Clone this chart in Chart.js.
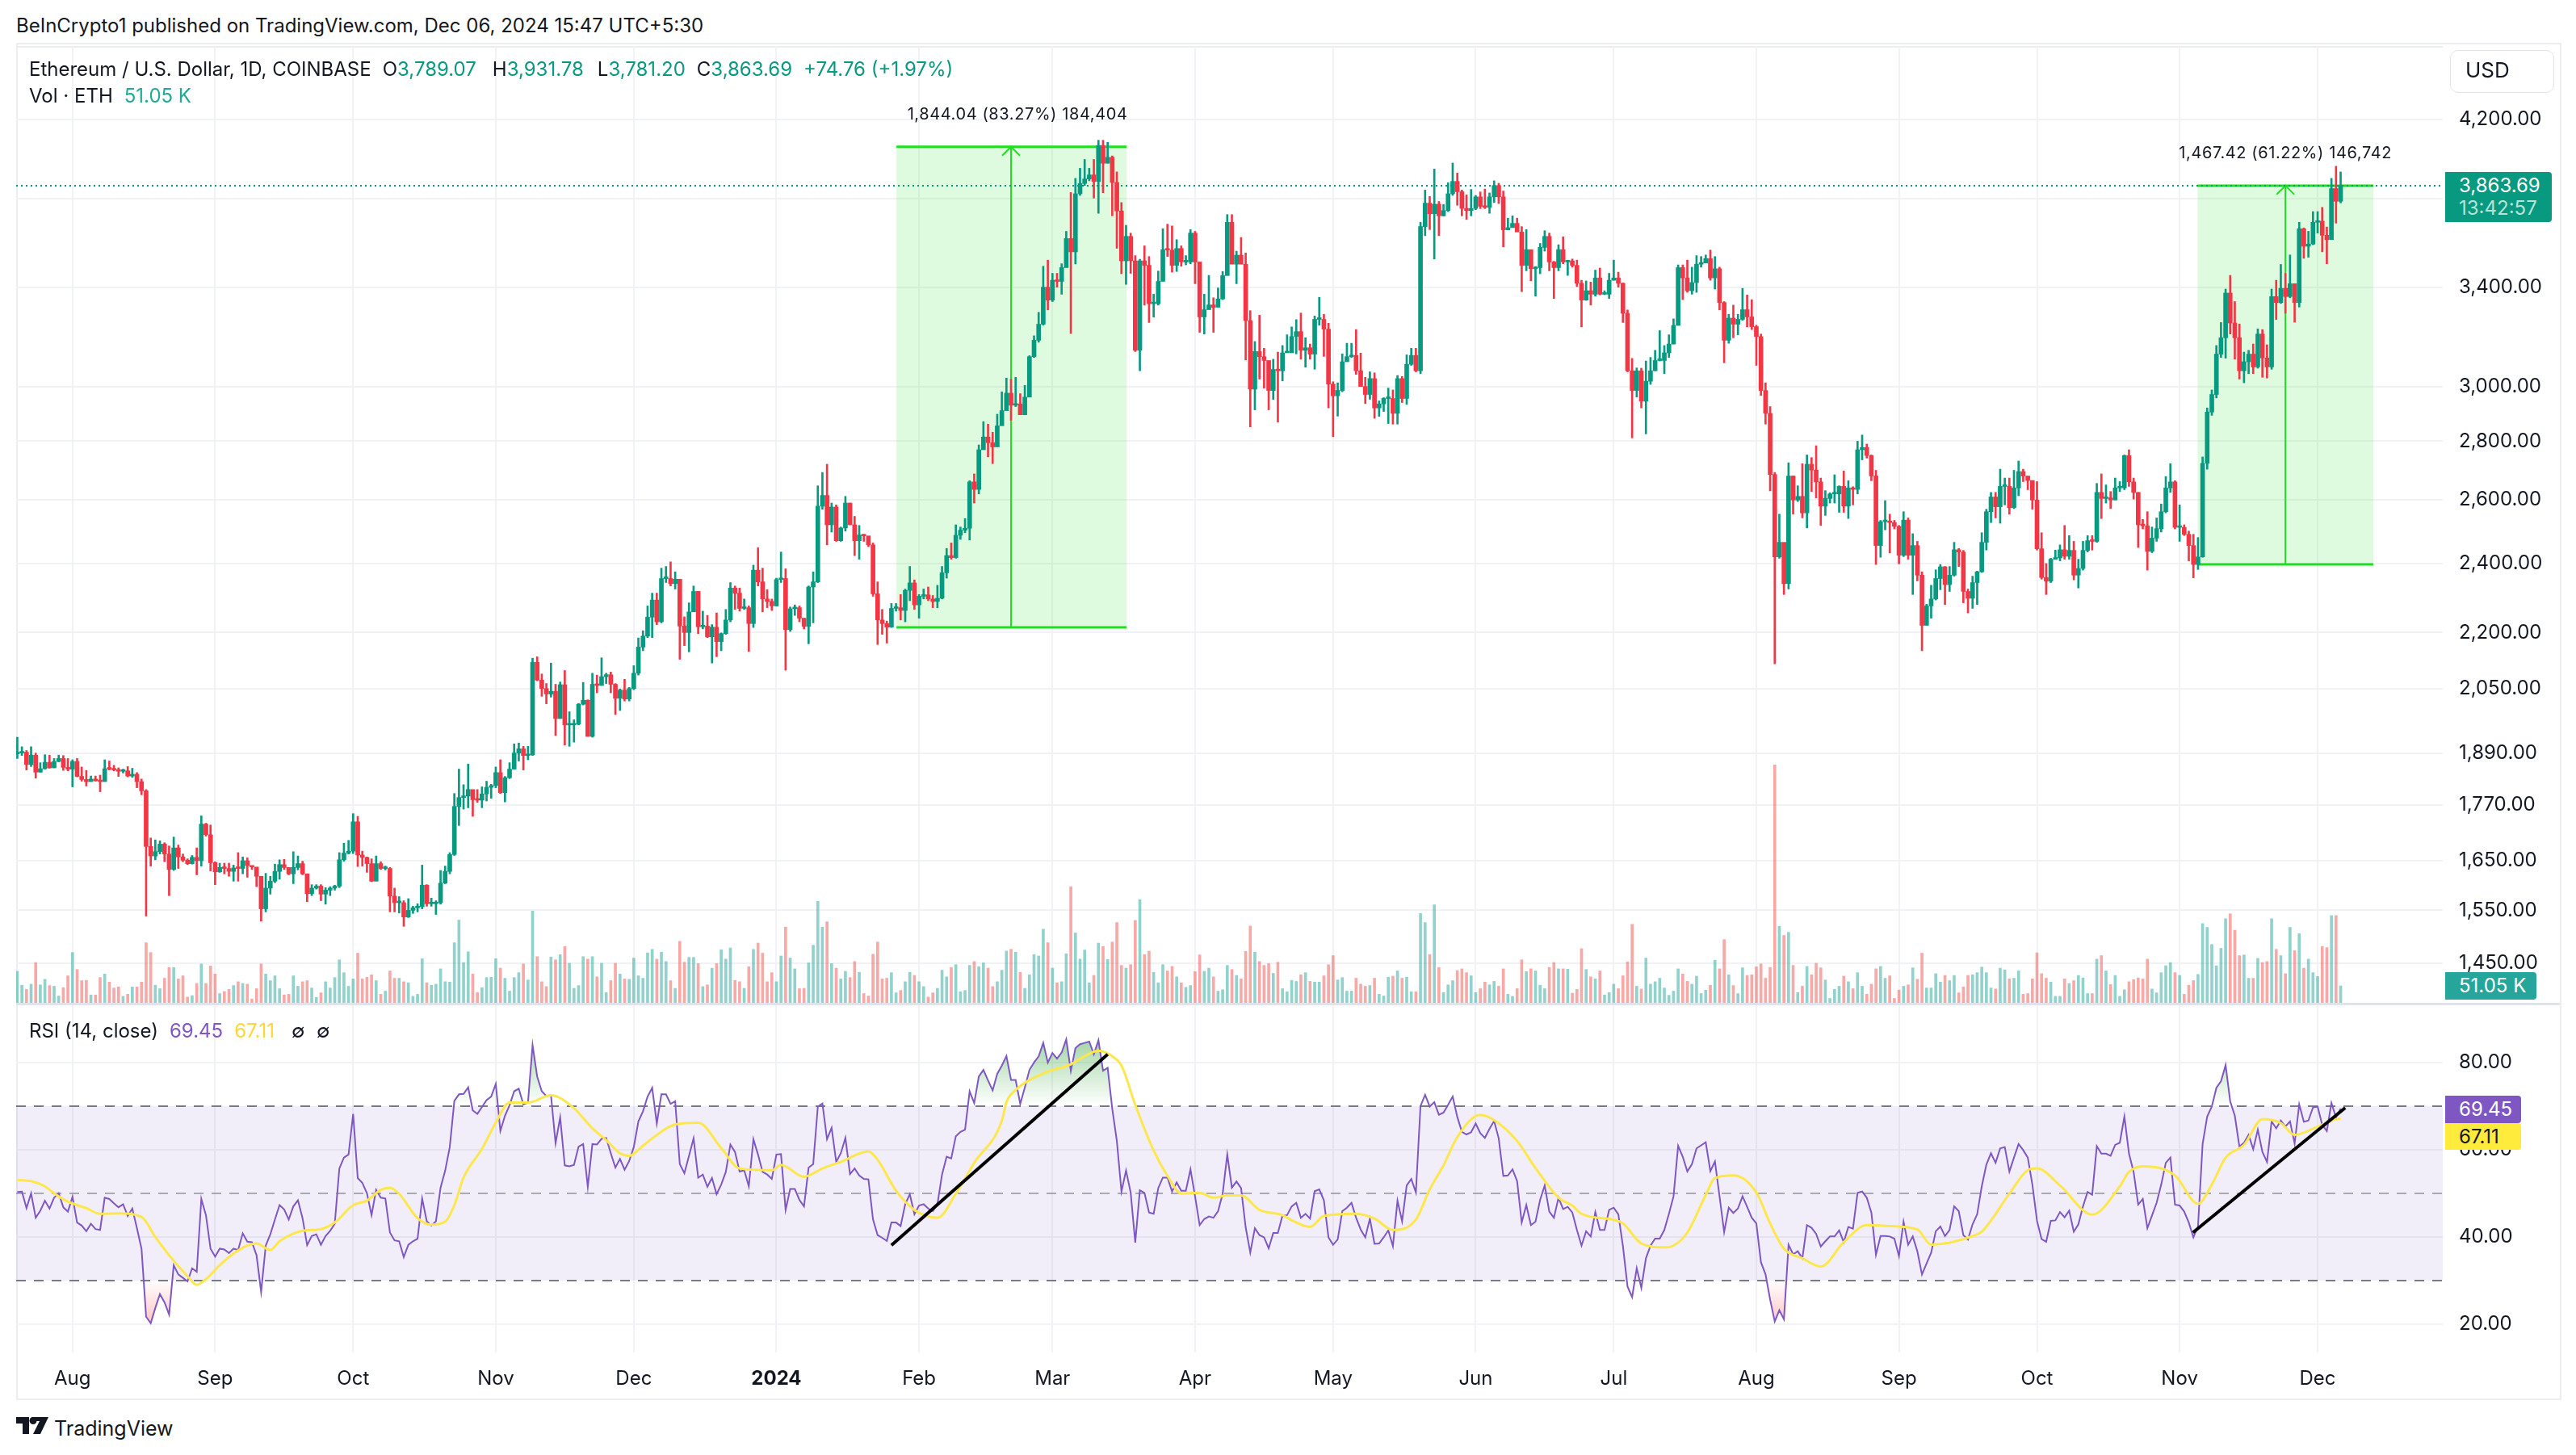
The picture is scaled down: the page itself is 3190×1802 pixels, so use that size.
<!DOCTYPE html>
<html>
<head>
<meta charset="utf-8">
<title>ETH/USD 1D</title>
<script src="https://cdn.jsdelivr.net/npm/chart.js@4"></script>
<style>
  html, body { margin: 0; padding: 0; background: #fff; }
  body { width: 3190px; height: 1802px; position: relative; overflow: hidden; font-family: Inter, sans-serif; color: #131722; }
  canvas { position: absolute; left: 20px; }
  .txt { position: absolute; white-space: pre; font-size: 24px; line-height: 30px; }
  .line { position: absolute; background: #ebedf1; }
  .tag { position: absolute; left: 3028px; text-align: left; padding-left: 17px; box-sizing: border-box; font-size: 24px; border-radius: 0 4px 4px 0; }
  .teal { color: #089981; }
  .gap { margin-left: 14px; }
</style>
</head>
<body>
<div class="txt" style="left:20px;top:17px">BeInCrypto1 published on TradingView.com, Dec 06, 2024 15:47 UTC+5:30</div>

<div class="line" style="left:20px;top:53px;width:3152px;height:2px"></div>
<div class="line" style="left:20px;top:57px;width:3005px;height:2px"></div>
<div class="line" style="left:20px;top:53px;width:2px;height:1681px"></div>
<div class="line" style="left:3170px;top:53px;width:2px;height:1681px"></div>
<div class="line" style="left:20px;top:1732px;width:3152px;height:2px"></div>

<canvas id="priceChart" width="3150" height="1186" style="top:57px"></canvas>
<canvas id="rsiChart" width="3150" height="489" style="top:1243px"></canvas>
<div class="line" style="left:20px;top:1242px;width:3150px;height:3px;background:#e0e3eb"></div>

<div class="txt" style="left:36px;top:71px">Ethereum / U.S. Dollar, 1D, COINBASE<span class="gap">O</span><span class="teal">3,789.07</span><span class="gap" style="margin-left:20px">H</span><span class="teal">3,931.78</span><span class="gap" style="margin-left:17px">L</span><span class="teal">3,781.20</span><span class="gap">C</span><span class="teal">3,863.69</span><span class="gap teal">+74.76 (+1.97%)</span></div>
<div class="txt" style="left:36px;top:104px">Vol · ETH<span class="gap" style="color:#22ab94">51.05 K</span></div>
<div class="txt" style="left:36px;top:1262px">RSI (14, close)<span class="gap" style="color:#7e57c2">69.45</span><span class="gap" style="color:#fdd835">67.11</span></div>
<div class="txt" style="left:361px;top:1262px">∅</div>
<div class="txt" style="left:392px;top:1262px">∅</div>

<div style="position:absolute;left:3034px;top:62px;width:127px;height:51px;border:1px solid #e0e3eb;border-radius:10px"></div>
<div class="txt" style="left:3053px;top:72px;font-size:26px">USD</div>

<div class="tag" style="top:213px;width:132px;height:62px;background:#089981;color:#fff;line-height:28px;padding-top:3px">3,863.69<br><span style="color:#b5e3d9">13:42:57</span></div>
<div class="tag" style="top:1204px;width:113px;height:34px;background:#26a69a;color:#fff;line-height:34px">51.05 K</div>
<div class="tag" style="top:1357px;width:94px;height:34px;background:#7e57c2;color:#fff;line-height:34px">69.45</div>
<div class="tag" style="top:1391px;width:94px;height:33px;background:#ffeb3b;color:#131722;line-height:33px">67.11</div>

<svg style="position:absolute;left:20px;top:1755px" width="40" height="22" viewBox="0 0 40 22">
  <path d="M0 0H16V21H8V8H0Z M19 0H40L30 21H21L29 5H19Z" fill="#131722"/>
  <circle cx="21" cy="4.5" r="4.5" fill="#131722"/>
</svg>
<div class="txt" style="left:67px;top:1754px;font-size:25px">TradingView</div>

<script>
// closes per day, 20 Jul 2023 to 6 Dec 2024. open = previous close
const firstOpen = 1888;
const closes = [
  1890,1892,1863,1885,1845,1853,1868,1855,1870,1877,
  1856,1852,1870,1835,1828,1823,1829,1825,1823,1853,
  1852,1850,1847,1848,1836,1840,1823,1802,1680,1660,
  1669,1685,1664,1632,1677,1658,1651,1644,1657,1650,
  1728,1705,1646,1627,1636,1634,1628,1635,1634,1650,
  1640,1637,1618,1553,1594,1608,1628,1642,1636,1623,
  1636,1644,1623,1583,1594,1598,1582,1590,1594,1598,
  1652,1666,1670,1733,1662,1657,1644,1608,1644,1634,
  1634,1578,1565,1565,1537,1550,1555,1557,1600,1563,
  1563,1565,1604,1628,1663,1767,1787,1790,1805,1782,
  1781,1795,1810,1814,1844,1798,1832,1852,1890,1900,
  1884,1886,2119,2072,2050,2036,2043,1974,2060,1958,
  1958,1960,2010,2020,1930,2061,2058,2081,2086,2061,
  2025,2046,2023,2050,2090,2160,2190,2243,2292,2230,
  2355,2355,2340,2353,2218,2200,2258,2317,2216,2218,
  2188,2215,2175,2197,2235,2327,2312,2268,2270,2225,
  2380,2345,2295,2288,2275,2352,2355,2208,2267,2270,
  2240,2217,2330,2345,2580,2615,2520,2577,2470,2510,
  2590,2520,2470,2488,2485,2457,2310,2235,2225,2215,
  2268,2270,2262,2320,2342,2278,2303,2307,2295,2288,
  2297,2372,2424,2418,2487,2503,2509,2660,2635,2770,
  2815,2795,2780,2855,2910,2975,2930,2935,2895,2960,
  3115,3180,3245,3400,3345,3430,3425,3485,3615,3555,
  3825,3875,3897,3917,3885,4065,3975,4005,3880,3743,
  3515,3625,3515,3140,3515,3495,3330,3330,3425,3565,
  3563,3495,3570,3510,3510,3640,3510,3275,3305,3325,
  3315,3350,3450,3690,3500,3540,3500,3260,2990,3135,
  3115,3100,2985,3065,3060,3130,3130,3195,3215,3140,
  3150,3125,3265,3265,3225,3009,2965,2985,3095,3115,
  3120,3060,3000,2970,3030,2920,2935,2955,2955,2900,
  3030,2955,3085,3120,3060,3670,3780,3730,3775,3720,
  3745,3825,3885,3835,3755,3745,3755,3810,3765,3760,
  3810,3865,3810,3655,3665,3685,3645,3495,3565,3480,
  3485,3575,3625,3510,3485,3565,3510,3515,3495,3417,
  3345,3385,3370,3440,3370,3370,3430,3440,3417,3290,
  3060,2985,3060,2945,3020,3060,3100,3100,3130,3165,
  3240,3485,3440,3385,3420,3500,3505,3525,3440,3480,
  3335,3180,3270,3245,3265,3305,3275,3235,3195,2985,
  2900,2685,2420,2465,2340,2680,2600,2612,2558,2720,
  2700,2660,2580,2605,2620,2620,2645,2580,2640,2635,
  2770,2778,2750,2680,2455,2530,2530,2527,2515,2425,
  2535,2425,2455,2365,2220,2275,2295,2355,2390,2337,
  2365,2442,2435,2317,2297,2343,2375,2465,2562,2610,
  2578,2645,2645,2575,2640,2695,2680,2665,2600,2445,
  2358,2347,2413,2417,2442,2422,2440,2365,2385,2440,
  2470,2468,2625,2605,2607,2600,2640,2640,2750,2660,
  2625,2520,2517,2437,2478,2508,2562,2640,2660,2512,
  2512,2490,2455,2397,2420,2723,2905,2970,3125,3190,
  3375,3250,3190,3060,3095,3125,3075,3205,3110,3075,
  3360,3335,3395,3360,3415,3335,3660,3580,3590,3690,
  3695,3630,3610,3850,3789.07,3863.69
];
const highs = [
  1928,1905,1896,1905,1890,1867,1886,1885,1877,1885,
  1884,1877,1874,1877,1857,1849,1836,1836,1838,1874,
  1871,1861,1855,1852,1858,1854,1844,1829,1805,1698,
  1694,1692,1688,1681,1700,1683,1664,1654,1661,1677,
  1746,1730,1726,1648,1645,1645,1645,1641,1667,1658,
  1656,1639,1636,1618,1624,1618,1643,1652,1653,1635,
  1669,1660,1649,1623,1601,1601,1601,1595,1597,1600,
  1667,1687,1693,1751,1745,1670,1658,1654,1660,1648,
  1639,1636,1594,1577,1569,1573,1558,1563,1641,1601,
  1574,1569,1630,1639,1667,1796,1852,1816,1864,1804,
  1805,1811,1824,1817,1857,1874,1835,1867,1912,1914,
  1906,1906,2130,2134,2088,2063,2117,2061,2067,2097,
  1991,1971,2012,2066,2021,2090,2085,2131,2090,2093,
  2063,2049,2074,2053,2110,2185,2205,2275,2312,2312,
  2386,2391,2405,2375,2353,2244,2284,2333,2317,2260,
  2248,2222,2255,2199,2265,2343,2333,2327,2295,2275,
  2395,2448,2386,2322,2295,2356,2435,2384,2272,2278,
  2275,2240,2333,2375,2647,2692,2720,2590,2584,2513,
  2612,2590,2547,2518,2490,2480,2463,2345,2265,2232,
  2282,2282,2308,2324,2391,2351,2308,2324,2330,2305,
  2335,2391,2446,2463,2520,2513,2540,2664,2687,2787,
  2870,2861,2832,2897,2980,3032,3028,3035,2973,3004,
  3119,3198,3294,3491,3518,3460,3460,3502,3648,3831,
  3900,3950,3994,3950,3994,4092,4092,4081,4012,3932,
  3783,3676,3640,3538,3522,3582,3534,3370,3470,3660,
  3681,3673,3610,3582,3538,3656,3648,3507,3370,3451,
  3355,3397,3468,3726,3726,3558,3620,3550,3301,3175,
  3282,3148,3094,3105,3133,3159,3202,3234,3264,3291,
  3190,3165,3279,3357,3286,3249,3018,3014,3126,3168,
  3168,3223,3129,3035,3056,3052,2946,2958,2994,2987,
  3042,3038,3122,3148,3148,3690,3843,3812,3946,3788,
  3774,3879,3976,3926,3843,3820,3846,3817,3834,3848,
  3829,3888,3876,3838,3709,3720,3709,3670,3656,3561,
  3490,3593,3651,3640,3513,3587,3623,3518,3523,3518,
  3430,3427,3422,3474,3483,3385,3460,3518,3465,3418,
  3304,3108,3071,3070,3098,3112,3140,3219,3159,3202,
  3267,3497,3497,3518,3487,3538,3534,3541,3563,3534,
  3487,3339,3286,3324,3286,3395,3367,3347,3241,3205,
  3014,2925,2692,2554,2463,2725,2680,2647,2722,2752,
  2743,2784,2673,2631,2624,2684,2647,2697,2664,2644,
  2800,2822,2790,2752,2699,2534,2598,2554,2534,2518,
  2562,2542,2492,2468,2375,2280,2335,2381,2397,2391,
  2391,2465,2446,2440,2324,2362,2377,2495,2570,2625,
  2625,2703,2673,2673,2699,2731,2703,2678,2664,2661,
  2495,2400,2416,2441,2457,2518,2486,2468,2413,2468,
  2486,2486,2655,2687,2650,2628,2673,2661,2752,2770,
  2673,2625,2537,2562,2513,2542,2587,2678,2722,2664,
  2584,2520,2500,2490,2480,2745,2920,2987,3159,3252,
  3392,3451,3339,3246,3133,3140,3165,3226,3223,3162,
  3392,3430,3499,3460,3541,3415,3690,3664,3648,3740,
  3740,3760,3668,3900,3960,3931.78
];
const lows = [
  1877,1884,1850,1858,1831,1845,1852,1854,1855,1869,
  1849,1848,1811,1834,1824,1813,1824,1824,1800,1824,
  1850,1848,1835,1843,1834,1833,1809,1793,1539,1639,
  1652,1664,1648,1579,1630,1634,1648,1642,1643,1621,
  1639,1702,1629,1601,1626,1623,1618,1608,1608,1623,
  1616,1632,1597,1529,1547,1582,1605,1612,1632,1621,
  1603,1631,1621,1567,1579,1592,1569,1562,1579,1590,
  1595,1649,1664,1665,1638,1639,1626,1607,1609,1632,
  1631,1547,1547,1545,1519,1536,1544,1547,1553,1558,
  1558,1542,1562,1603,1623,1661,1725,1761,1764,1745,
  1776,1764,1779,1785,1809,1796,1777,1830,1852,1871,
  1850,1874,1884,2070,2030,2011,2028,1932,1974,1909,
  1906,1916,1958,2008,1930,1928,2039,2058,2063,2039,
  1984,1994,2018,2018,2047,2085,2150,2186,2186,2222,
  2227,2343,2333,2324,2127,2164,2147,2260,2197,2210,
  2186,2117,2134,2150,2195,2230,2265,2260,2265,2148,
  2214,2333,2258,2270,2262,2275,2343,2098,2203,2248,
  2230,2210,2169,2227,2343,2570,2457,2497,2468,2468,
  2500,2520,2424,2413,2468,2452,2303,2167,2195,2171,
  2214,2260,2235,2230,2290,2265,2240,2295,2290,2270,
  2270,2295,2356,2413,2416,2474,2495,2472,2590,2620,
  2774,2745,2722,2784,2875,2942,2875,2925,2907,2907,
  2987,3112,3172,3241,3304,3339,3400,3370,3487,3207,
  3501,3817,3865,3888,3804,3732,3830,3976,3720,3571,
  3458,3412,3460,3135,3060,3324,3252,3274,3324,3451,
  3534,3465,3468,3491,3497,3502,3415,3212,3205,3309,
  3212,3316,3347,3454,3502,3415,3502,3102,2851,2913,
  3028,2994,2913,2951,2868,3021,3133,3133,3126,3105,
  3074,3105,3066,3241,3116,2920,2816,2890,2980,3098,
  3112,3046,3000,2936,2952,2882,2889,2907,2863,2861,
  2861,2940,2933,3081,3056,3049,3628,3656,3523,3628,
  3720,3740,3817,3770,3720,3703,3720,3749,3754,3754,
  3732,3783,3778,3577,3664,3670,3660,3381,3471,3427,
  3362,3458,3558,3471,3352,3471,3502,3451,3487,3403,
  3234,3344,3324,3362,3367,3368,3352,3430,3400,3252,
  3056,2812,2960,2920,2826,3008,3060,3098,3049,3112,
  3165,3241,3347,3378,3370,3378,3487,3507,3430,3392,
  3304,3091,3168,3190,3202,3261,3234,3223,3081,2966,
  2861,2630,2115,2416,2308,2324,2554,2595,2542,2510,
  2628,2607,2518,2550,2590,2590,2560,2560,2540,2584,
  2620,2735,2741,2664,2397,2419,2504,2432,2507,2399,
  2421,2413,2308,2348,2150,2221,2240,2292,2322,2279,
  2317,2362,2391,2284,2255,2268,2279,2373,2441,2527,
  2542,2525,2584,2554,2572,2614,2661,2634,2570,2441,
  2353,2308,2343,2413,2408,2413,2413,2351,2327,2380,
  2435,2441,2465,2540,2590,2572,2601,2628,2634,2645,
  2603,2449,2507,2380,2433,2468,2497,2558,2625,2507,
  2468,2486,2408,2357,2382,2419,2703,2893,2957,3112,
  3109,3205,3105,3028,3014,3049,3049,3070,3035,3032,
  3066,3264,3331,3290,3355,3253,3316,3526,3531,3587,
  3640,3555,3502,3614,3686,3781.20
];
// volume in thousands of ETH
const volumes = [
  93,53,41,56,118,54,70,52,50,22,
  46,80,147,98,66,67,25,25,75,85,
  62,45,48,21,27,48,48,62,175,147,
  53,43,73,104,104,71,80,19,23,58,
  114,58,108,85,29,35,41,52,63,58,
  56,13,43,114,85,66,80,43,25,27,
  80,50,63,66,45,18,31,63,45,75,
  126,89,50,71,145,71,76,83,66,27,
  36,94,73,73,63,60,21,27,129,60,
  53,56,100,63,62,175,240,118,149,85,
  32,46,75,76,129,102,73,36,75,89,
  114,68,266,135,63,49,134,126,141,164,
  116,44,52,135,128,135,77,116,32,66,
  116,85,71,70,131,80,73,146,156,128,
  148,121,66,44,179,119,133,133,115,49,
  54,102,115,155,128,160,67,63,44,106,
  156,174,145,63,89,63,137,220,131,100,
  43,44,117,168,294,220,235,115,102,71,
  93,75,121,90,29,22,142,177,71,73,
  89,31,38,63,90,81,63,49,19,31,
  44,96,77,104,112,34,38,110,121,106,
  117,102,49,63,96,151,156,148,90,44,
  83,141,137,214,175,102,60,63,143,336,
  203,128,154,60,81,174,164,127,177,233,
  110,102,112,239,299,141,151,90,60,112,
  94,107,77,60,47,52,92,140,93,102,
  77,36,40,110,98,81,71,150,223,148,
  121,110,115,87,119,43,34,67,64,83,
  89,64,62,62,80,112,138,68,75,36,
  36,73,56,50,52,73,27,22,76,79,
  94,73,76,34,34,259,233,141,284,104,
  32,54,66,95,100,89,80,32,43,62,
  54,64,50,100,27,21,43,126,92,100,
  94,53,43,104,118,100,100,99,30,41,
  158,98,77,71,94,25,32,56,43,80,
  120,228,50,42,131,56,63,73,45,24,
  36,100,85,64,56,79,29,39,53,125,
  100,184,83,52,29,103,81,83,106,114,
  73,104,686,222,196,205,110,32,50,107,
  83,116,103,68,15,41,50,79,63,43,
  89,50,27,56,100,107,73,80,15,39,
  50,54,103,70,145,45,45,86,62,81,
  66,81,31,48,81,83,89,105,89,45,
  42,102,97,71,73,94,27,29,71,146,
  86,73,62,21,21,71,58,66,81,74,
  29,29,128,138,94,55,81,21,40,63,
  69,74,71,128,42,31,89,109,118,89,
  81,27,53,66,84,230,219,170,109,159,
  244,258,211,138,140,73,73,130,118,121,
  244,156,138,86,219,152,201,102,128,89,
  78,164,161,253,253,51.05
];
const rsiValues = [
  50.3,50.4,46.6,50,44.4,46,48.3,46.5,49,50,
  46.8,45.8,49.2,43.3,42.6,41.3,43,41.8,41.6,49,
  48.7,47.7,46.8,47.5,44.8,46.5,42,37.3,21.7,20.2,
  23.7,26.9,25,22.2,33.5,31.4,30.6,29.8,32.8,32,
  48.7,45,37.3,35.5,37.3,37.1,36.3,37.3,37,40.8,
  38.9,38.8,35.8,27.4,38,40.6,44,47.3,46.3,44,
  47,48.4,44.3,38.1,40.2,40.6,38.2,40.2,41.4,43,
  55.7,58.2,58.9,68.2,53.5,52.4,50,45,50.8,49,
  48.8,41,39.2,39,35.4,38.2,39,39.6,48.8,43.6,
  42.6,43.6,51.3,55.2,60.6,71.2,72.7,72.8,74.3,69,
  68.2,69.8,71.4,72.2,75.1,64.3,67.8,70.2,73.4,74,
  70.4,70.8,84,76.8,73.4,72.3,72.5,61.5,67.4,56.4,
  56.2,56.5,60.7,61.3,51.5,61.3,61.2,62.5,62.7,59.2,
  55.9,57.9,55.4,57.4,60.6,66.5,68.8,72.2,74.2,66,
  72.7,72.7,70.5,71.1,56.7,54.6,58.6,62.6,53.6,54.3,
  51.5,53.5,49.8,52,54.9,61.2,59.5,55,55.3,51.6,
  62.4,58.9,54.9,54.3,53.3,58.9,59,46.2,51,51,
  48.5,47,55.9,56.7,69.9,70.6,62.4,65,57.2,59.2,
  62.7,54.4,55.7,54.1,53.3,53.2,44,40.4,39.8,39.1,
  43.3,43.3,42.5,47.5,49.8,45.2,47.2,47.5,46.5,45.9,
  47.5,54.3,58.4,58,63.1,64.1,64.6,73.4,70.7,76.8,
  78.3,75.9,73.6,77.4,79.3,81.5,76,76,70.5,74.3,
  78.3,80,81.4,84.5,80,82.2,80.9,82.3,85.3,78.1,
  83.3,84.2,84.5,84.8,81.9,85.1,78.1,78.8,69.4,62,
  50.4,55.2,50.2,38.7,50.7,50.1,45.6,45.3,51.2,53.6,
  53.6,50.4,52.5,50.6,50.6,55.5,49.3,42.7,44.1,44.7,
  44.4,45.9,49.9,58.9,51.3,52.7,51.2,42.2,36.4,42,
  40.4,39.9,37.4,40.9,40.9,44.9,45,47,47.8,44.4,
  45.3,44.2,50.5,50.9,48.4,39.9,38.2,39.4,45.9,46.7,
  47.8,44.4,41.7,39.9,44.2,38.4,38.5,39.9,41.5,37.9,
  48.3,43.6,51.8,53.3,50.2,70,72.6,69.9,70.9,68,
  68.5,70.3,72.2,67.5,64.1,63.5,64,66,63.8,62.7,
  64.8,66.6,62.6,54,54.1,55.5,52.8,43.3,47.3,42.7,
  43.5,48.5,51.8,45.8,44.4,49,46.4,46.9,45.6,41.6,
  38,41.3,40.1,45.7,41.6,41.6,46.2,46.7,45.2,37.9,
  28.6,26.2,32.8,28.3,35.1,38,39.6,39.6,41.6,45.3,
  49.3,60.9,58.4,55,56.7,60.3,61,61.7,55.1,57.3,
  49.3,41.1,46.7,45.5,46.5,49.3,46.9,44.4,43.1,34.2,
  31.4,25.6,20.6,23.2,21.1,38.2,36,36.7,35.1,42.7,
  42.1,40.7,37.8,39,40.1,40.1,41.5,38.8,42.3,41.9,
  50.1,50.4,49,45.6,35.9,40.2,40.2,40.1,39.6,35.6,
  43.5,38.2,40.1,36.7,31.4,33.9,36.4,41.3,42.4,40.2,
  41.6,47,45.9,40.4,39.4,42.9,45.2,51.6,56.6,59.2,
  57,60.3,60.6,55,58.2,61.3,59.9,58.2,52,43.7,
  39.5,38.9,43.7,43.8,45.7,44.5,46,41.2,42.9,47,
  50.3,49.7,60.8,59.1,59.1,58.6,61.1,61.6,67.6,59.1,
  54.9,47.4,48.7,42,44.9,47.8,52,57,58.2,47.4,
  47.2,45.8,43.3,39.9,42.4,61.3,67.6,69.9,74.2,75.7,
  79.4,71.1,67.8,60.7,61.6,63.4,60.1,64.6,59.5,57.2,
  66.5,64.9,66.7,65.3,66.5,61.4,70.4,66.4,66.7,69.7,
  69.9,65.7,64.3,70.7,67.4,69.45
];
// the yellow average, read at the days listed in rsiMaDays
const rsiMaDays = [0,3,6,8,11,15,18,22,27,30,33,37,39,41,44,47,52,55,57,62,66,69,73,76,79,81,83,87,90,93,95,97,101,104,107,111,116,121,125,128,131,133,136,
  138,143,148,153,157,164,166,171,175,179,185,187,191,195,200,204,208,214,215,217,223,229,233,235,238,240,243,247,250,253,257,260,263,266,270,275,
  277,281,284,291,295,299,304,307,310,313,318,321,326,330,335,338,340,347,349,353,358,360,363,367,369,373,378,381,384,388,392,397,402,407,413,416,
  417,420,425,427,433,437,439,444,451,457,459,462,469,474,477,480,484,488,492,495,500,504,505];
const rsiMaValues = [53.05,52.8,51.6,50,48.1,46.6,45.3,45.4,44.6,40,35.8,31,29,30.3,33.5,36.2,38.5,37,39,41.4,41.8,43.3,47.3,48.3,50.8,51.3,49.9,44.3,42.8,43.5,47.3,53.6,60.2,66.2,70.8,70.8,72.5,69.5,64.9,62.2,59.2,58.6,60.9,
  62.6,65.8,66.2,60.4,55.7,55.3,56.5,53.8,55.7,57.2,59.6,57.7,50.6,46.2,44.4,49.9,57,66.6,70.9,73.7,77.5,79.6,82,82.7,81.4,79.3,70.3,59.8,54,50,50.1,49,49.5,49.5,46.2,45,
  43.8,42.3,44.8,45.3,44.2,41.6,44,50.9,56.4,62.9,68,66.8,62,55.8,49,47.2,45.3,43.9,43.1,38.5,37.6,38,41,49.6,53.5,54.1,50.2,43.1,37.3,35.1,33.2,38.8,42.7,42.5,41.7,38.2,
  38.3,38.7,40.2,41.2,49.9,55.3,55.7,51.8,45.1,51.6,54.9,56.2,54.1,47.6,52,58.2,61.1,67,66.1,63.4,65.3,67,67.11];

const monthDays = [12,43,73,104,134,165,196,225,256,286,317,347,378,409,439,470,500];
const monthLabels = ['Aug','Sep','Oct','Nov','Dec','2024','Feb','Mar','Apr','May','Jun','Jul','Aug','Sep','Oct','Nov','Dec'];
const priceTicks = [1450,1550,1650,1770,1890,2050,2200,2400,2600,2800,3000,3400,3800,4200];
const rsiTicks = [20,40,60,80];

// the two long-position drawings
const measureFrom = [191.1,473.9];
const measureTo = [241.1,512.1];
const measureMid = [216,493];
const measureBase = [2214.5,2397];
const measureTop = [4058.5,3864.4];
const measureText = ['1,844.04 (83.27%) 184,404','1,467.42 (61.22%) 146,742'];
const lastClose = 3863.69;

// trend lines on the RSI pane
const trendDays = [[190,237],[472.9,506]];
const trendRsi = [[38.1,81.9],[41,69.6]];

const UP = '#089981';
const DOWN = '#f23645';
const UP_VOL = 'rgba(38,166,154,0.5)';
const DOWN_VOL = 'rgba(239,83,80,0.5)';
const GRID = '#f1f2f5';
const MEASURE = '#1fdf1f';

const opens = closes.map((c, i) => i ? closes[i - 1] : firstOpen);
const candleColor = closes.map((c, i) => c >= opens[i] ? UP : DOWN);
const volColor = closes.map((c, i) => c >= opens[i] ? UP_VOL : DOWN_VOL);

const xScale = {
  type: 'linear',
  min: -0.25,
  max: 527.2,
  offset: false,
  afterBuildTicks: s => { s.ticks = monthDays.map(v => ({ value: v })); },
  grid: { color: GRID, lineWidth: 2, drawTicks: false, offset: false },
  border: { display: false }
};

function noPad(s) {
  s.paddingTop = 0; s.paddingBottom = 0; s.paddingLeft = 0; s.paddingRight = 0;
}

const drawingsPlugin = {
  id: 'drawings',
  beforeDatasetsDraw(chart) {
    const { ctx, scales: { x, y }, chartArea } = chart;
    ctx.save();
    measureFrom.forEach((from, i) => {
      const l = x.getPixelForValue(from), r = x.getPixelForValue(measureTo[i]);
      const t = y.getPixelForValue(measureTop[i]), b = y.getPixelForValue(measureBase[i]);
      const m = x.getPixelForValue(measureMid[i]);
      ctx.fillStyle = 'rgba(25,230,25,0.14)';
      ctx.fillRect(l, t, r - l, b - t);
      ctx.strokeStyle = MEASURE;
      ctx.lineWidth = 3;
      ctx.beginPath();
      ctx.moveTo(l, t); ctx.lineTo(r, t);
      ctx.moveTo(l, b); ctx.lineTo(r, b);
      ctx.stroke();
      ctx.lineWidth = 2;
      ctx.beginPath();
      ctx.moveTo(m, b); ctx.lineTo(m, t);
      ctx.moveTo(m - 11, t + 11); ctx.lineTo(m, t); ctx.lineTo(m + 11, t + 11);
      ctx.stroke();
      ctx.fillStyle = '#131722';
      ctx.font = '20px Inter';
      ctx.letterSpacing = '0.6px';
      ctx.textAlign = 'center';
      ctx.textBaseline = 'middle';
      ctx.fillText(measureText[i], m + (i ? 0 : 8), t - 40);
      ctx.letterSpacing = '0px';
    });
    // last price line
    const py = y.getPixelForValue(lastClose);
    ctx.strokeStyle = UP;
    ctx.lineWidth = 2;
    ctx.setLineDash([2, 4]);
    ctx.beginPath();
    ctx.moveTo(chartArea.left, py);
    ctx.lineTo(chartArea.right, py);
    ctx.stroke();
    ctx.restore();
  }
};

new Chart(document.getElementById('priceChart'), {
  type: 'bar',
  plugins: [drawingsPlugin],
  data: {
    datasets: [
      {
        label: 'body',
        data: closes.map((c, i) => ({ x: i, y: [opens[i], c] })),
        backgroundColor: candleColor,
        barThickness: 5,
        minBarLength: 2,
        yAxisID: 'y'
      },
      {
        label: 'wick',
        data: closes.map((c, i) => ({ x: i, y: [lows[i], highs[i]] })),
        backgroundColor: candleColor,
        barThickness: 2,
        yAxisID: 'y'
      },
      {
        label: 'volume',
        data: volumes.map((v, i) => ({ x: i, y: v })),
        backgroundColor: volColor,
        barThickness: 3,
        yAxisID: 'yVol'
      }
    ]
  },
  options: {
    responsive: false,
    animation: false,
    devicePixelRatio: 1,
    events: [],
    grouped: false,
    layout: { padding: 0 },
    plugins: { legend: { display: false }, tooltip: { enabled: false } },
    scales: {
      x: {
        ...xScale,
        ticks: { display: false },
        afterFit: s => { s.height = 0; noPad(s); }
      },
      y: {
        type: 'logarithmic',
        position: 'right',
        min: 1378,
        max: 4608,
        afterBuildTicks: s => { s.ticks = priceTicks.map(v => ({ value: v })); },
        afterFit: s => { s.width = 145; noPad(s); },
        grid: { color: GRID, lineWidth: 2, drawTicks: false },
        border: { display: false },
        ticks: {
          color: '#131722',
          font: { family: 'Inter', size: 24 },
          padding: 20,
          autoSkip: false,
          callback: v => v === 3800 ? '' : v.toLocaleString('en-US', { minimumFractionDigits: 2 })
        }
      },
      yVol: {
        type: 'linear',
        display: false,
        min: 0,
        max: 2751
      }
    }
  }
});

const rsiCanvas = document.getElementById('rsiChart');
const rsiCtx = rsiCanvas.getContext('2d');
const rsiTop = 93.5, rsiBottom = 13.5, rsiPx = 5.4;
const yOf = v => (rsiTop - v) * rsiPx;
const overGrad = rsiCtx.createLinearGradient(0, yOf(85), 0, yOf(70));
overGrad.addColorStop(0, 'rgba(76,175,80,0.5)');
overGrad.addColorStop(1, 'rgba(76,175,80,0)');
const underGrad = rsiCtx.createLinearGradient(0, yOf(30), 0, yOf(20));
underGrad.addColorStop(0, 'rgba(255,82,82,0)');
underGrad.addColorStop(1, 'rgba(255,82,82,0.35)');

const rsiBandPlugin = {
  id: 'rsiBand',
  beforeDatasetsDraw(chart) {
    const { ctx, scales: { y }, chartArea } = chart;
    const t = y.getPixelForValue(70), b = y.getPixelForValue(30);
    ctx.save();
    ctx.fillStyle = 'rgba(126,87,194,0.1)';
    ctx.fillRect(chartArea.left, t, chartArea.right - chartArea.left, b - t);
    ctx.lineWidth = 2;
    ctx.setLineDash([12, 10]);
    [[70, '#787b86'], [50, 'rgba(120,123,134,0.6)'], [30, '#787b86']].forEach(([v, c]) => {
      const py = y.getPixelForValue(v);
      ctx.strokeStyle = c;
      ctx.beginPath();
      ctx.moveTo(chartArea.left, py);
      ctx.lineTo(chartArea.right, py);
      ctx.stroke();
    });
    ctx.restore();
  }
};

const rsiPoints = rsiValues.map((v, i) => ({ x: i, y: v }));

new Chart(rsiCanvas, {
  type: 'line',
  plugins: [rsiBandPlugin],
  data: {
    datasets: [
      {
        label: 'trend 1',
        data: trendDays[0].map((d, i) => ({ x: d, y: trendRsi[0][i] })),
        borderColor: '#000',
        borderWidth: 4,
        pointRadius: 0
      },
      {
        label: 'trend 2',
        data: trendDays[1].map((d, i) => ({ x: d, y: trendRsi[1][i] })),
        borderColor: '#000',
        borderWidth: 4,
        pointRadius: 0
      },
      {
        label: 'RSI MA',
        data: rsiMaDays.map((d, i) => ({ x: d, y: rsiMaValues[i] })),
        borderColor: '#fde74c',
        borderWidth: 3,
        pointRadius: 0,
        cubicInterpolationMode: 'monotone'
      },
      {
        label: 'RSI',
        data: rsiPoints,
        borderColor: '#7e57c2',
        borderWidth: 2,
        pointRadius: 0,
        fill: { target: { value: 70 }, above: overGrad, below: 'rgba(0,0,0,0)' }
      },
      {
        label: 'RSI oversold',
        data: rsiPoints,
        borderColor: 'rgba(0,0,0,0)',
        borderWidth: 0,
        pointRadius: 0,
        fill: { target: { value: 30 }, above: 'rgba(0,0,0,0)', below: underGrad }
      }
    ]
  },
  options: {
    responsive: false,
    animation: false,
    devicePixelRatio: 1,
    events: [],
    layout: { padding: 0 },
    plugins: { legend: { display: false }, tooltip: { enabled: false } },
    scales: {
      x: {
        ...xScale,
        afterFit: s => { s.height = 57; noPad(s); },
        ticks: {
          color: '#131722',
          autoSkip: false,
          maxRotation: 0,
          padding: 18,
          font: ctx => ({ family: 'Inter', size: 24, weight: ctx.tick && ctx.tick.label === '2024' ? 'bold' : 'normal' }),
          callback: (v, i) => monthLabels[i]
        }
      },
      y: {
        type: 'linear',
        position: 'right',
        min: rsiBottom,
        max: rsiTop,
        afterBuildTicks: s => { s.ticks = rsiTicks.map(v => ({ value: v })); },
        afterFit: s => { s.width = 145; noPad(s); },
        grid: { color: GRID, lineWidth: 2, drawTicks: false },
        border: { display: false },
        ticks: {
          color: '#131722',
          font: { family: 'Inter', size: 24 },
          padding: 20,
          autoSkip: false,
          callback: v => v.toFixed(2)
        }
      }
    }
  }
});
</script>
</body>
</html>
